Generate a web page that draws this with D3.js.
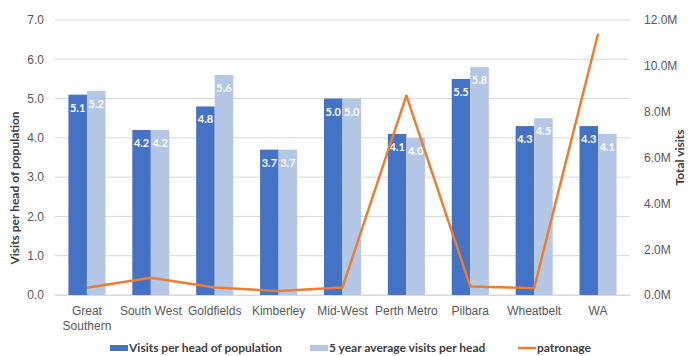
<!DOCTYPE html>
<html>
<head>
<meta charset="utf-8">
<script src="https://cdn.jsdelivr.net/npm/d3@7"></script>
<style>
  html, body { margin: 0; padding: 0; background: #fff; }
  svg { display: block; font-family: "Lato", "DejaVu Sans", sans-serif; }
</style>
</head>
<body>
<svg id="chart" width="691" height="356"></svg>
<script>
// Regions and their values
const regions = ["Great Southern", "South West", "Goldfields", "Kimberley", "Mid-West", "Perth Metro", "Pilbara", "Wheatbelt", "WA"];
const visitsPerHead = [5.1, 4.2, 4.8, 3.7, 5.0, 4.1, 5.5, 4.3, 4.3];
const fiveYearAvg = [5.2, 4.2, 5.6, 3.7, 5.0, 4.0, 5.8, 4.5, 4.1];
const patronage = [0.32e6, 0.75e6, 0.33e6, 0.17e6, 0.33e6, 8.7e6, 0.37e6, 0.30e6, 11.4e6];
const leftTicks = [0, 1, 2, 3, 4, 5, 6, 7];
const rightTicks = [0, 2e6, 4e6, 6e6, 8e6, 10e6, 12e6];

const seriesNames = ["Visits per head of population", "5 year average visits per head", "patronage"];
const colors = { dark: "#4472C4", light: "#B4C7E7", line: "#ED7D31" };

const svg = d3.select("#chart");
const margin = { left: 55, right: 61, top: 20, bottom: 61 };
const W = 691, H = 356;
const plotW = W - margin.left - margin.right;
const plotH = H - margin.top - margin.bottom;

const g = svg.append("g").attr("transform", `translate(${margin.left},${margin.top})`);

const x = d3.scaleBand().domain(regions).range([0, plotW]).paddingInner(0).paddingOuter(0);
const xInner = d3.scaleBand().domain([0, 1]).range([x.bandwidth() * 0.21, x.bandwidth() * 0.79]);
const yL = d3.scaleLinear().domain([0, 7]).range([plotH, 0]);
const yR = d3.scaleLinear().domain([0, 12e6]).range([plotH, 0]);

// Gridlines
g.append("g").selectAll("line").data(leftTicks).join("line")
  .attr("x1", 0).attr("x2", plotW)
  .attr("y1", d => yL(d)).attr("y2", d => yL(d))
  .attr("stroke", "#d9d9d9").attr("stroke-width", 1);

// Left axis
const leftAxis = g.append("g").call(d3.axisLeft(yL).tickValues(leftTicks).tickFormat(d3.format(".1f")).tickSize(0).tickPadding(11));
leftAxis.select(".domain").remove();
leftAxis.selectAll("text").attr("fill", "#595959").style("font-size", "12px");

// Right axis
const rightAxis = g.append("g").attr("transform", `translate(${plotW},0)`)
  .call(d3.axisRight(yR).tickValues(rightTicks).tickFormat(d => (d / 1e6).toFixed(1) + "M").tickSize(0).tickPadding(14));
rightAxis.select(".domain").remove();
rightAxis.selectAll("text").attr("fill", "#595959").style("font-size", "12px");

// Bottom axis
const bottomAxis = g.append("g").attr("transform", `translate(0,${plotH})`)
  .call(d3.axisBottom(x).tickSize(0).tickPadding(11));
bottomAxis.select(".domain").attr("stroke", "#d9d9d9");
bottomAxis.selectAll("text").attr("fill", "#595959").style("font-size", "12px")
  .each(function(d) {
    const t = d3.select(this);
    if (d === "Great Southern") {
      t.text(null);
      t.append("tspan").attr("x", 0).attr("dy", "0.71em").text("Great");
      t.append("tspan").attr("x", 0).attr("dy", "1.25em").text("Southern");
      t.attr("dy", null);
    }
  });

// Bars
const bars = [visitsPerHead, fiveYearAvg];
const barColors = [colors.dark, colors.light];
bars.forEach((vals, si) => {
  const grp = g.append("g");
  grp.selectAll("rect").data(vals).join("rect")
    .attr("x", (d, i) => x(regions[i]) + xInner(si))
    .attr("width", xInner.bandwidth())
    .attr("y", d => yL(d))
    .attr("height", d => plotH - yL(d))
    .attr("fill", barColors[si]);
  grp.selectAll("text").data(vals).join("text")
    .attr("x", (d, i) => x(regions[i]) + xInner(si) + xInner.bandwidth() / 2)
    .attr("y", d => yL(d) + 17)
    .attr("text-anchor", "middle")
    .attr("fill", "#fff")
    .style("font-size", "11px").style("font-weight", "bold")
    .text(d => d3.format(".1f")(d));
});

// Patronage line
const line = d3.line()
  .x((d, i) => x(regions[i]) + x.bandwidth() / 2)
  .y(d => yR(d));
g.append("path").datum(patronage)
  .attr("d", line).attr("fill", "none")
  .attr("stroke", colors.line).attr("stroke-width", 2.5)
  .attr("stroke-linejoin", "round");

// Axis titles
svg.append("text")
  .attr("transform", "translate(19,188) rotate(-90)")
  .attr("text-anchor", "middle")
  .attr("fill", "#404040").style("font-size", "12px").style("font-weight", "bold")
  .text("Visits per head of population");
svg.append("text")
  .attr("transform", `translate(684,${margin.top + plotH / 2}) rotate(-90)`)
  .attr("text-anchor", "middle")
  .attr("fill", "#404040").style("font-size", "12px").style("font-weight", "bold")
  .text("Total visits");

// Legend
const legend = svg.append("g").attr("transform", "translate(0,348)");
const legendX = [110, 310, 518];
seriesNames.forEach((name, i) => {
  const item = legend.append("g").attr("transform", `translate(${legendX[i]},0)`);
  if (i < 2) {
    item.append("rect").attr("x", 0).attr("y", -3).attr("width", 18).attr("height", 6).attr("fill", barColors[i]);
  } else {
    item.append("line").attr("x1", 0).attr("x2", 18).attr("y1", 0).attr("y2", 0)
      .attr("stroke", colors.line).attr("stroke-width", 2.5);
  }
  item.append("text").attr("x", 19).attr("y", 4)
    .attr("fill", "#404040").style("font-size", "12px").style("font-weight", "bold")
    .text(name);
});
</script>
</body>
</html>
